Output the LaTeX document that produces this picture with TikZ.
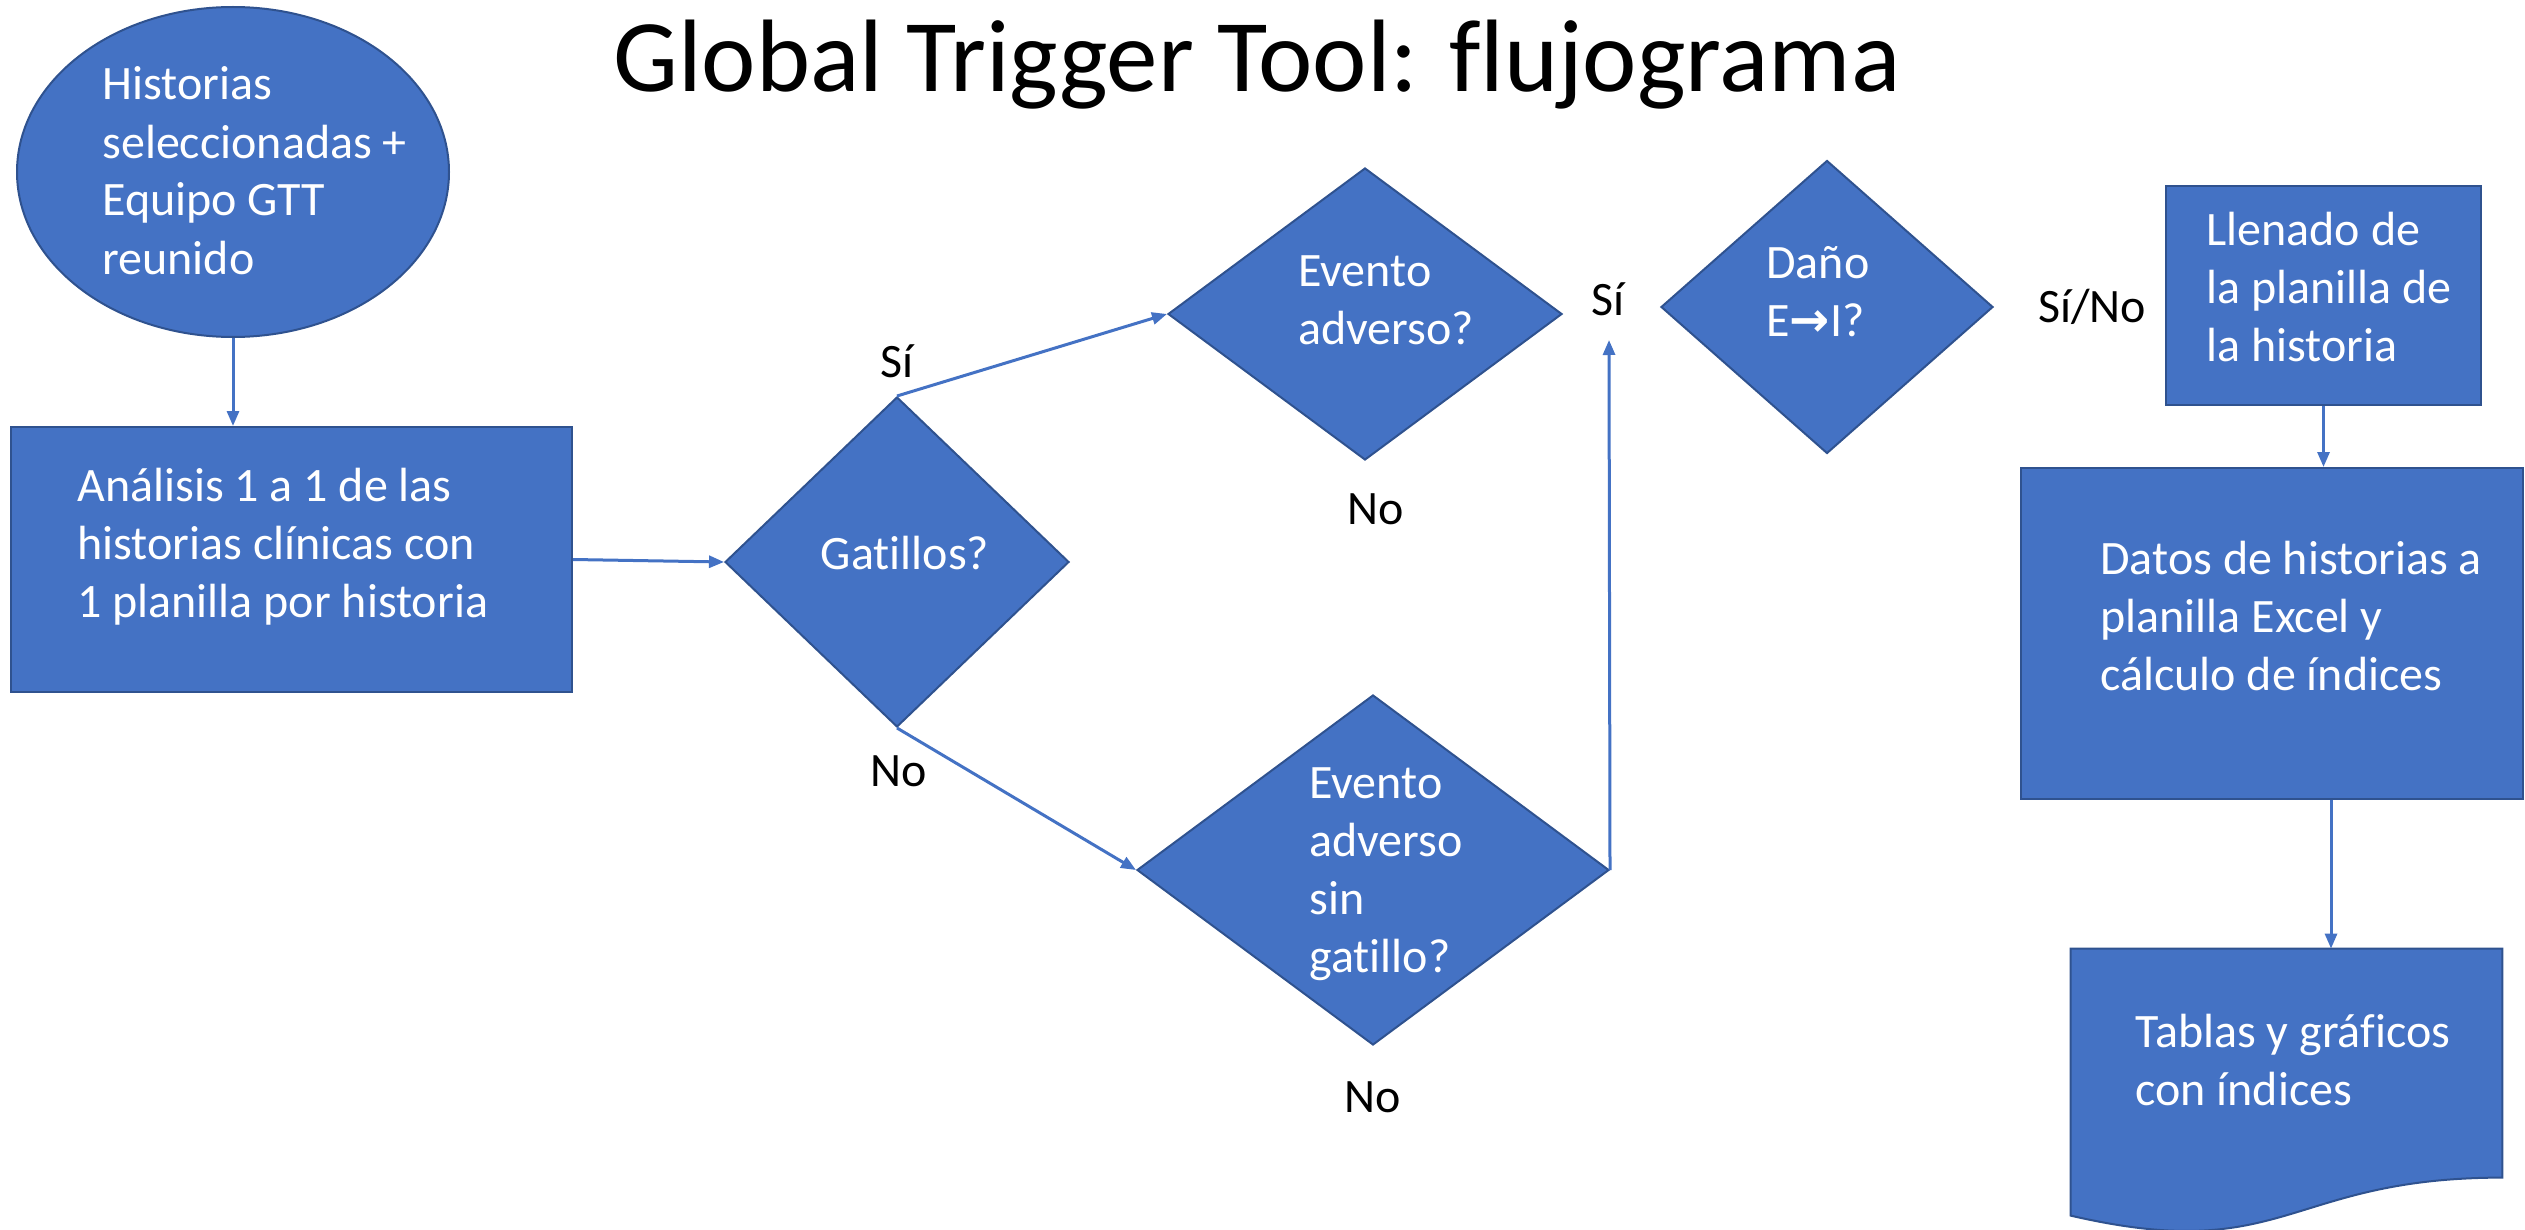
\documentclass[tikz,border=0pt]{standalone}
\usepackage{fontspec}
\setmainfont[Ligatures=NoCommon]{Carlito}
\newfontfamily\arrowfont{DejaVu Sans}
\usetikzlibrary{arrows.meta, shapes.geometric, calc}
\definecolor{boxblue}{HTML}{4472C4}
\definecolor{edgeblue}{HTML}{2F528F}

\begin{document}
\begin{tikzpicture}[x=0.5pt, y=-0.5pt,
    box/.style={draw=edgeblue, fill=boxblue, line width=1pt, inner sep=0pt},
    dia/.style={box, diamond},
    txt/.style={text=white, align=left, anchor=base west, inner sep=0pt},
    lbl/.style={text=black, anchor=base, inner sep=0pt},
    arr/.style={draw=boxblue, line width=1.5pt, -{Triangle[length=7.5pt, width=6pt]}},
    font=\fontsize{24pt}{29pt}\selectfont]
    \useasboundingbox (0,0) rectangle (2525,1230);

    % Title
    \node[lbl, font=\fontsize{51.5pt}{62pt}\selectfont] (title) at (1257,92) {Global Trigger Tool: flujograma};

    % Start and first step
    \node[box, ellipse, minimum width=216pt, minimum height=165pt] (start) at (233,172) {};
    \node[txt] (start-t) at (102,274) {Historias\\seleccionadas +\\Equipo GTT\\reunido};
    \node[box, minimum width=280.5pt, minimum height=132.5pt] (analisis) at (291.5,559.5) {};
    \node[txt] (analisis-t) at (77,617) {Análisis 1 a 1 de las\\historias clínicas con\\1 planilla por historia};

    % Decisions
    \node[dia, minimum width=172pt, minimum height=165pt] (gat) at (897,562) {};
    \node[lbl, text=white] (gat-t) at (905,569) {Gatillos?};
    \node[dia, minimum width=197pt, minimum height=146pt] (ea) at (1365,314) {};
    \node[txt] (ea-t) at (1298,344) {Evento\\adverso?};
    \node[dia, minimum width=236pt, minimum height=175pt] (easg) at (1373,870) {};
    \node[txt] (easg-t) at (1309,972) {Evento\\adverso\\sin\\gatillo?};
    \node[dia, minimum width=166pt, minimum height=146.5pt] (dano) at (1827,307) {};
    \node[txt] (dano-t) at (1766,336) {Daño\\E{\arrowfont\bfseries →}I?};

    % Results
    \node[box, minimum width=157.5pt, minimum height=109.5pt] (llenado) at (2323.5,295.5) {};
    \node[txt] (llenado-t) at (2206,361) {Llenado de\\la planilla de\\la historia};
    \node[box, minimum width=251pt, minimum height=165.5pt] (datos) at (2272,633.5) {};
    \node[txt] (datos-t) at (2100,690) {Datos de historias a\\planilla Excel y\\cálculo de índices};
    \node[minimum width=215.5pt, minimum height=143pt, inner sep=0pt] (tablas) at (2286.5,1092) {};
    \filldraw[draw=edgeblue, fill=boxblue, line width=1pt]
      (tablas.north west) -- (tablas.north east) -- ($(tablas.north east)+(0,229)$)
      .. controls ($(tablas.north west)+(215.5,229)$) and ($(tablas.north west)+(215.5,317)$)
      .. ($(tablas.north west)+(0,267)$) -- cycle;
    \node[txt] (tablas-t) at (2135,1105) {Tablas y gráficos\\con índices};

    % Labels
    \node[lbl] (si1) at (897,377) {Sí};
    \node[lbl] (no1) at (899,786) {No};
    \node[lbl] (no2) at (1376,524) {No};
    \node[lbl] (si2) at (1608,315) {Sí};
    \node[lbl] (no3) at (1373,1112) {No};
    \node[lbl] (sino) at (2092,322) {Sí/No};

    % Connectors
    \coordinate (up) at (1609,340);
    \coordinate (down) at (2331,800);
    \draw[arr] (start.south) -- (start.south |- analisis.north);
    \draw[arr] (analisis.east) -- (gat.west);
    \draw[arr] (gat.north) -- (ea.west);
    \draw[arr] (gat.south) -- (easg.west);
    \draw[arr] (easg.east) -- (up);
    \draw[arr] (llenado.south) -- (llenado.south |- datos.north);
    \draw[arr] (down) -- (down |- tablas.north);
  \end{tikzpicture}
\end{document}
